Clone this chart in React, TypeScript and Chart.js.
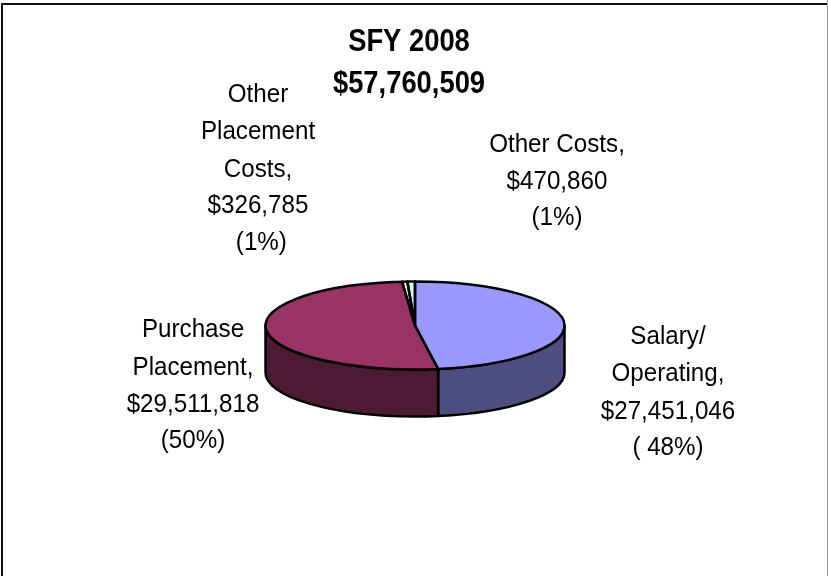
import React, { useEffect, useRef } from "react";
import { Chart, registerables } from "chart.js";

Chart.register(...registerables);

const categories = ["Salary/ Operating", "Purchase Placement", "Other Placement Costs", "Other Costs"];
const amounts = [27451046, 29511818, 326785, 470860];
const topColors = ["#9999FF", "#993366", "#FFFFCC", "#CCFFFF"];
const sideColors = ["#4D4D80", "#4D1A33", "#80805F", "#668080"];
const titleLines = ["SFY 2008", "$57,760,509"];
const labelLines = [
  ["Salary/", "Operating,", "$27,451,046", "( 48%)"],
  ["Purchase", "Placement,", "$29,511,818", "(50%)"],
  ["Other", "Placement", "Costs,", "$326,785", " (1%)"],
  ["Other Costs,", "$470,860", "(1%)"],
];
const labelX = [668, 193, 258, 557];
const labelBaseline = [
  [344, 381, 419, 455],
  [337, 375, 412, 448],
  [102, 139, 177, 213, 250],
  [152, 189, 225],
];
const titleX = 409;
const titleBaseline = [51, 93];
const RATIO = 44 / 149.5;
const DEPTH = 47;

const drawSquishedText = (ctx: any, t: string, x: number, y: number, sx: number) => {
  ctx.save();
  ctx.translate(x, y);
  ctx.scale(sx, 1);
  ctx.fillText(t, 0, 0);
  ctx.restore();
};

const pie3d = {
  id: "pie3d",
  beforeDraw(chart: any) {
    const { ctx, width, height } = chart;
    ctx.save();
    ctx.fillStyle = "#FFFFFF";
    ctx.fillRect(0, 0, width, height);
    ctx.fillStyle = "#111111";
    ctx.fillRect(1, 3, width - 2, 2);
    ctx.fillRect(1, 3, 2, height - 3);
    ctx.fillStyle = "#999999";
    ctx.fillRect(width - 1, 0, 1, height);
    ctx.restore();
  },
  beforeDatasetDraw(chart: any, args: any) {
    const { ctx } = chart;
    const arcs = args.meta.data;
    const { x, y, outerRadius: r } = arcs[0];
    const ry = r * RATIO;
    ctx.save();
    ctx.lineWidth = 2.5;
    ctx.strokeStyle = "#000000";
    ctx.lineJoin = "round";
    arcs.forEach((a: any, i: number) => {
      const a0 = Math.max(a.startAngle, 0);
      const a1 = Math.min(a.endAngle, Math.PI);
      if (a1 <= a0) return;
      ctx.beginPath();
      ctx.ellipse(x, y, r, ry, 0, a0, a1);
      ctx.ellipse(x, y + DEPTH, r, ry, 0, a1, a0, true);
      ctx.closePath();
      ctx.fillStyle = sideColors[i];
      ctx.fill();
      ctx.stroke();
    });
    ctx.restore();
    ctx.save();
    ctx.translate(x, y);
    ctx.scale(1, RATIO);
    ctx.translate(-x, -y);
  },
  afterDatasetDraw(chart: any, args: any) {
    const { ctx } = chart;
    ctx.restore();
    const arcs = args.meta.data;
    const { x, y, outerRadius: r } = arcs[0];
    ctx.save();
    ctx.lineWidth = 2.5;
    ctx.strokeStyle = "#000000";
    ctx.lineJoin = "round";
    arcs.forEach((a: any) => {
      ctx.beginPath();
      ctx.moveTo(x, y);
      ctx.ellipse(x, y, r, r * RATIO, 0, a.startAngle, a.endAngle);
      ctx.closePath();
      ctx.stroke();
    });
    ctx.restore();
  },
  afterDraw(chart: any) {
    const { ctx } = chart;
    ctx.save();
    ctx.fillStyle = "#000000";
    ctx.textAlign = "center";
    ctx.textBaseline = "alphabetic";
    ctx.font = 'bold 32px "Liberation Sans"';
    titleLines.forEach((t, i) => drawSquishedText(ctx, t, titleX, titleBaseline[i], 0.855));
    ctx.font = '26px "Liberation Sans"';
    labelLines.forEach((lines, i) => {
      lines.forEach((t, j) => drawSquishedText(ctx, t, labelX[i], labelBaseline[i][j], 0.93));
    });
    ctx.restore();
  },
};

export default function App() {
  const ref = useRef<HTMLCanvasElement>(null);
  useEffect(() => {
    const chart = new Chart(ref.current!, {
      type: "pie",
      data: {
        labels: categories,
        datasets: [{ data: amounts, backgroundColor: topColors, borderWidth: 0 }],
      },
      options: {
        responsive: false,
        animation: false,
        layout: { padding: { left: 265, right: 263, top: 176, bottom: 101 } },
        plugins: { legend: { display: false }, title: { display: false }, tooltip: { enabled: false } },
      },
      plugins: [pie3d],
    });
    return () => chart.destroy();
  }, []);
  return (
    <div style={{ position: "fixed", left: 0, top: 0, width: 828, height: 576 }}>
      <canvas ref={ref} width={828} height={576} style={{ display: "block" }} />
    </div>
  );
}
